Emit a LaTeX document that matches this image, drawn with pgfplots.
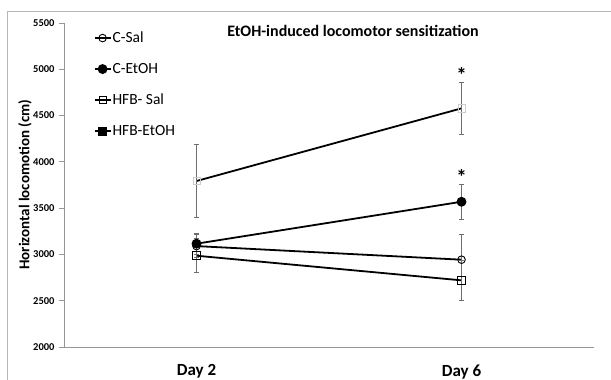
\documentclass[border=0pt]{standalone}
\usepackage{pgfplots}
\pgfplotsset{compat=1.18}
\usepackage{fontspec}
\setmainfont{Carlito}

\definecolor{axisgray}{RGB}{150,150,150}
\definecolor{errgray}{RGB}{110,110,110}

% group means and SEM, x: 1 = Day 2, 2 = Day 6
\pgfplotstableread{
x  y     e
1  3090  120
2  2943  270
}\csal
\pgfplotstableread{
x  y     e
1  3116  115
2  3569  190
}\cetoh
\pgfplotstableread{
x  y     e
1  2986  185
2  2720  215
}\hfbsal
\pgfplotstableread{
x  y     e
1  3793  395
2  4578  280
}\hfbetoh

\begin{document}
\begin{tikzpicture}[x=1pt,y=1pt]
\begin{axis}[
  at={(64pt,33pt)}, anchor=south west,
  scale only axis, width=530pt, height=324pt,
  xmin=0.5, xmax=2.5, ymin=2000, ymax=5500,
  axis x line*=bottom, axis y line*=left,
  axis line style={axisgray, line width=0.9pt, -},
  xtick={1,2}, xticklabels={Day 2, Day 6},
  major x tick style={draw=none},
  extra x ticks={1.5,2.5}, extra x tick labels={},
  extra x tick style={major tick length=4pt, tick style={axisgray, line width=0.9pt}},
  x tick label style={font=\bfseries\fontsize{17}{19}\selectfont, yshift=-9pt},
  ytick={2000,2500,...,5500},
  y tick label style={font=\bfseries\fontsize{10.5}{12}\selectfont, xshift=-1pt},
  /pgf/number format/assume math mode=true,
  yticklabel={\pgfmathprintnumber[fixed,1000 sep={}]{\tick}},
  ytick style={axisgray, line width=0.9pt},
  tick align=outside, major tick length=5pt,
  legend style={draw=none, fill=none, at={(0.05,0.985)}, anchor=north west,
    font=\fontsize{15.5}{17}\selectfont, row sep=15pt,
    nodes={text height=11pt, text depth=3pt, inner sep=1pt},
    legend cell align=left},
  legend image code/.code={
    \draw[#1, mark repeat=2, mark phase=2] plot coordinates {(0pt,0pt) (8pt,0pt) (16pt,0pt)};},
  clip=false,
]
% legend entries
\addlegendimage{black, line width=1.8pt, mark=o, mark size=3.8pt, mark options={fill=white, line width=0.9pt}}
\addlegendentry{C-Sal}
\addlegendimage{black, line width=1.8pt, mark=*, mark size=4pt, mark options={fill=black}}
\addlegendentry{C-EtOH}
\addlegendimage{black, line width=1.8pt, mark=square, mark size=3.6pt, mark options={fill=white, line width=0.9pt}}
\addlegendentry{HFB- Sal}
\addlegendimage{black, line width=1.8pt, mark=square*, mark size=3.6pt, mark options={fill=black}}
\addlegendentry{HFB-EtOH}

% series with error bars
\addplot[black, line width=1.8pt, forget plot,
  mark=square, mark size=3.7pt, mark options={draw=black!20, fill=none, line width=0.6pt},
  error bars/.cd, y dir=both, y explicit,
  error bar style={errgray, line width=1pt},
  error mark options={rotate=90, mark size=2.8pt, errgray, line width=1pt}]
  table[x=x, y=y, y error=e] {\hfbetoh};
\addplot[black, line width=1.8pt, forget plot,
  mark=o, mark size=3.8pt, mark options={fill=white, line width=0.9pt},
  error bars/.cd, y dir=both, y explicit,
  error bar style={errgray, line width=1pt},
  error mark options={rotate=90, mark size=2.8pt, errgray, line width=1pt}]
  table[x=x, y=y, y error=e] {\csal};
\addplot[black, line width=1.8pt, forget plot,
  mark=square, mark size=3.8pt, mark options={fill=white, line width=0.9pt},
  error bars/.cd, y dir=both, y explicit,
  error bar style={errgray, line width=1pt},
  error mark options={rotate=90, mark size=2.8pt, errgray, line width=1pt}]
  table[x=x, y=y, y error=e] {\hfbsal};
\addplot[black, line width=1.8pt, forget plot,
  mark=*, mark size=4pt, mark options={fill=black},
  error bars/.cd, y dir=both, y explicit,
  error bar style={errgray, line width=1pt},
  error mark options={rotate=90, mark size=2.8pt, errgray, line width=1pt}]
  table[x=x, y=y, y error=e] {\cetoh};

% significance markers
\node[font=\bfseries\fontsize{21}{21}\selectfont, inner sep=0pt] at (axis cs:2,4862) [above=-1pt] {*};
\node[font=\bfseries\fontsize{21}{21}\selectfont, inner sep=0pt] at (axis cs:2,3763) [above=-1pt] {*};
\end{axis}

% titles
\node[font=\bfseries\fontsize{16}{18}\selectfont] at (353pt,349pt) {EtOH-induced locomotor sensitization};
\node[font=\bfseries\fontsize{15}{17}\selectfont, rotate=90] at (25pt,195.5pt) {Horizontal locomotion (cm)};

% chart frame
\draw[axisgray!70, line width=0.9pt] (7pt,-5pt) -- (7pt,369pt) -- (620pt,369pt);

\pgfresetboundingbox
\path (0pt,0pt) rectangle (611pt,380pt);
\end{tikzpicture}
\end{document}
